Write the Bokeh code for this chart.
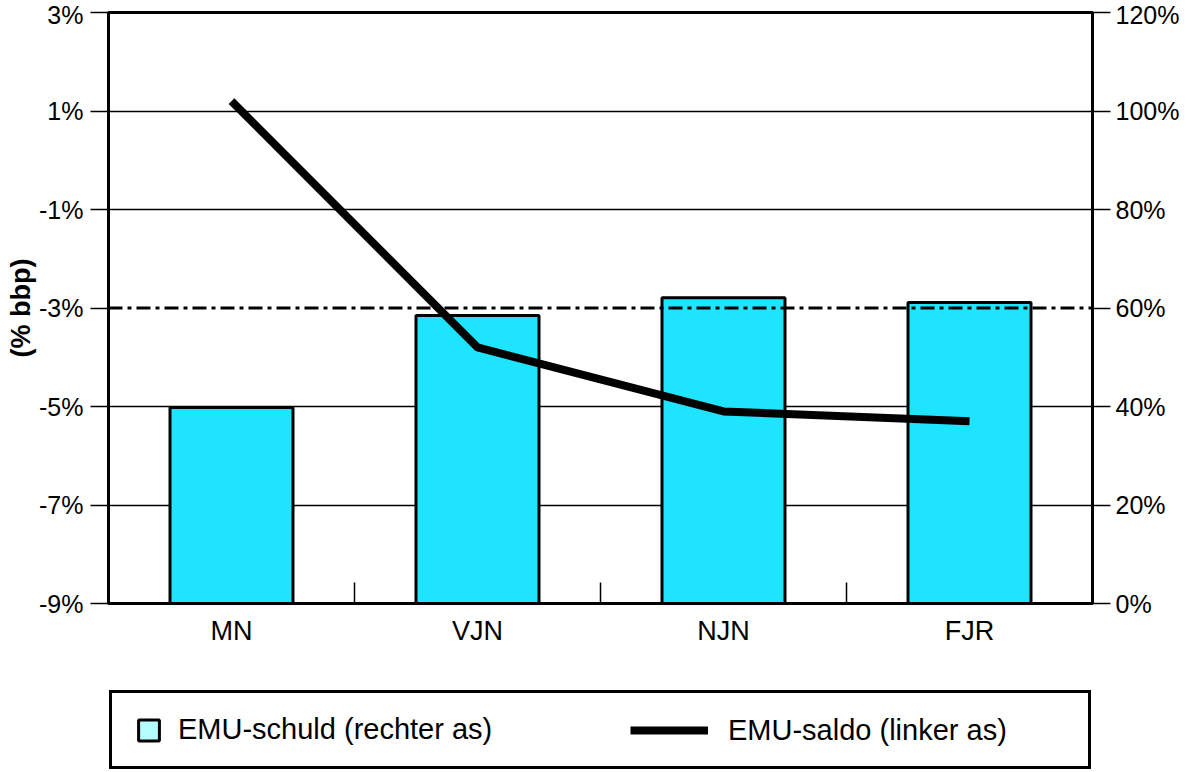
import numpy as np
from bokeh.plotting import figure
from bokeh.layouts import column
from bokeh.models import (Range1d, LinearAxis, FixedTicker, PrintfTickFormatter,
                          Span, Legend, LegendItem, ColumnDataSource)
from bokeh.embed import file_html
from bokeh.resources import INLINE

# ---- data ----
categories = ["MN", "VJN", "NJN", "FJR"]
emu_schuld = [39.8, 58.5, 62.1, 61.1]      # % bbp, right axis (bars)
emu_saldo = [1.2, -3.8, -5.1, -5.3]        # % bbp, left axis (line)
left_ticks = [-9, -7, -5, -3, -1, 1, 3]
right_ticks = [0, 20, 40, 60, 80, 100, 120]
saldo_norm = -3
label_schuld = "EMU-schuld (rechter as)"
label_saldo = "EMU-saldo (linker as)"
axis_title = "(% bbp)"

FONT = "Liberation Sans"
BAR_COLOR = "#1ee4fe"
LEGEND_SQ_COLOR = "#b3fcff"

x = (np.arange(len(categories)) + 0.5).tolist()
src = ColumnDataSource(dict(x=x, schuld=emu_schuld, saldo=emu_saldo, cat=categories))

# ---------------- main chart ----------------
p = figure(width=1186, height=660,
           x_range=Range1d(0, len(categories)),
           y_range=Range1d(left_ticks[0], left_ticks[-1]),
           output_backend="svg", toolbar_location=None,
           min_border_left=108, min_border_right=94,
           min_border_top=12, min_border_bottom=57)
p.extra_y_ranges = {"right": Range1d(right_ticks[0], right_ticks[-1])}
p.background_fill_color = "white"
p.border_fill_color = "white"
p.outline_line_color = "black"
p.outline_line_width = 3

p.xgrid.visible = False
p.ygrid.ticker = FixedTicker(ticks=[t for t in left_ticks
                                    if t not in (saldo_norm, left_ticks[0], left_ticks[-1])])
p.ygrid.grid_line_color = "black"
p.ygrid.grid_line_width = 1.5

p.vbar(x="x", top="schuld", bottom=0, width=0.5, y_range_name="right",
       fill_color=BAR_COLOR, line_color="black", line_width=3, source=src)

p.add_layout(Span(location=saldo_norm, dimension="width", line_color="black",
                  line_width=3, line_dash="14 5 4 5"))

p.line("x", "saldo", line_width=8, line_color="black", source=src)

# left axis
ya = p.yaxis[0]
ya.ticker = FixedTicker(ticks=left_ticks)
ya.formatter = PrintfTickFormatter(format="%d%%")
ya.major_tick_out = 18
ya.major_tick_in = 0
ya.minor_tick_out = 0
ya.minor_tick_in = 0
ya.major_tick_line_width = 1.5
ya.axis_line_width = 3
ya.major_label_text_font = FONT
ya.major_label_text_font_size = "25px"
ya.major_label_text_color = "black"
ya.major_label_standoff = 7
ya.axis_label = axis_title
ya.axis_label_text_font = FONT
ya.axis_label_text_font_style = "bold"
ya.axis_label_text_font_size = "27px"
ya.axis_label_text_color = "black"
ya.axis_label_standoff = 0

# right axis
ra = LinearAxis(y_range_name="right", ticker=FixedTicker(ticks=right_ticks),
                formatter=PrintfTickFormatter(format="%d%%"))
ra.major_tick_out = 18
ra.major_tick_in = 0
ra.minor_tick_out = 0
ra.minor_tick_in = 0
ra.major_tick_line_width = 1.5
ra.axis_line_width = 3
ra.major_label_text_font = FONT
ra.major_label_text_font_size = "25px"
ra.major_label_text_color = "black"
ra.major_label_standoff = 5
p.add_layout(ra, "right")

# x axis
xa = p.xaxis[0]
xa.ticker = FixedTicker(ticks=x, minor_ticks=np.arange(1, len(categories)).tolist())
xa.major_label_overrides = {float(xi): c for xi, c in zip(x, categories)}
xa.major_tick_in = 0
xa.major_tick_out = 0
xa.minor_tick_in = 21
xa.minor_tick_out = 0
xa.minor_tick_line_width = 1.5
xa.axis_line_width = 3
xa.major_label_text_font = FONT
xa.major_label_text_font_size = "27px"
xa.major_label_text_color = "black"
xa.major_label_standoff = 12

# ---------------- legend strip ----------------
q = figure(width=1186, height=112, output_backend="svg", toolbar_location=None,
           x_range=Range1d(0, 1), y_range=Range1d(0, 1),
           x_axis_location=None, y_axis_location=None,
           min_border_left=0, min_border_right=0, min_border_top=0, min_border_bottom=0)
q.outline_line_color = None
q.background_fill_color = "white"
q.border_fill_color = "white"
q.xgrid.visible = False
q.ygrid.visible = False

sq = q.scatter(x=[np.nan], y=[np.nan], marker="square", size=20,
               fill_color=LEGEND_SQ_COLOR, line_color="black", line_width=3)
lq = q.line(x=[np.nan, np.nan], y=[np.nan, np.nan], line_width=8, line_color="black")

leg_a = Legend(items=[LegendItem(label=label_schuld, renderers=[sq])],
               location=(1, 3), orientation="horizontal",
               border_line_color="black", border_line_width=3, border_line_alpha=1,
               background_fill_color="white", background_fill_alpha=1,
               padding=9, margin=0, spacing=0,
               glyph_width=55, glyph_height=52, label_height=55, label_width=901,
               label_standoff=2, label_text_font=FONT, label_text_font_size="29px",
               label_text_color="black")
leg_b = Legend(items=[LegendItem(label=label_saldo, renderers=[lq])],
               location=(522, 25), orientation="horizontal",
               border_line_alpha=0, background_fill_alpha=0,
               padding=0, margin=0, spacing=0,
               glyph_width=78, glyph_height=34, label_height=34,
               label_standoff=20, label_text_font=FONT, label_text_font_size="29px",
               label_text_color="black")
q.add_layout(leg_a)
q.add_layout(leg_b)

layout = column(p, q, spacing=0)
open("out.html", "w").write(file_html(layout, INLINE))
